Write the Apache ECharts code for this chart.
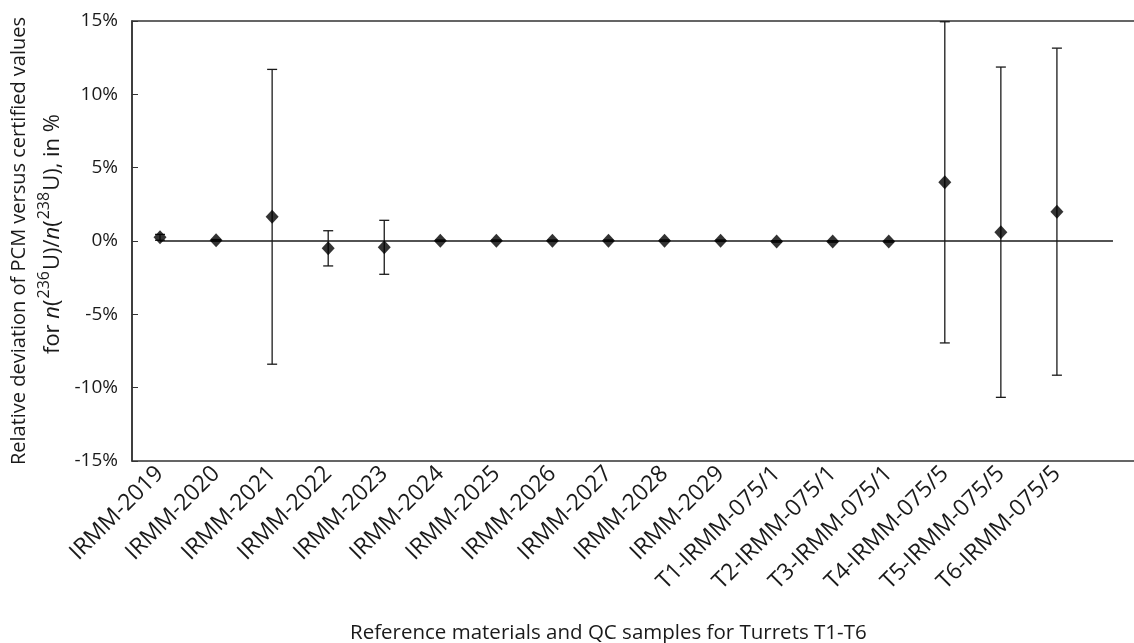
<!DOCTYPE html>
<html>
<head>
<meta charset="utf-8">
<script src="https://cdn.jsdelivr.net/npm/echarts@6/dist/echarts.min.js"></script>
<style>
  html, body { margin: 0; padding: 0; background: #fff; }
  #chart { width: 1134px; height: 643px; }
</style>
</head>
<body>
<div id="chart"></div>
<script>
// Sample names; the trailing blank slot leaves room for the end of the 0 % reference line
const categories = [
  'IRMM-2019', 'IRMM-2020', 'IRMM-2021', 'IRMM-2022', 'IRMM-2023', 'IRMM-2024',
  'IRMM-2025', 'IRMM-2026', 'IRMM-2027', 'IRMM-2028', 'IRMM-2029',
  'T1-IRMM-075/1', 'T2-IRMM-075/1', 'T3-IRMM-075/1',
  'T4-IRMM-075/5', 'T5-IRMM-075/5', 'T6-IRMM-075/5', ''
];

// Relative deviation of PCM versus certified value, in %
const deviation = [0.25, 0.05, 1.65, -0.50, -0.43, 0.02, 0.02, 0.02, 0.02, 0.02, 0.02,
  -0.03, -0.03, -0.03, 4.00, 0.60, 2.00];

// Expanded uncertainty (half-width of the error bar), in %
const uncertainty = [0.20, 0.05, 10.05, 1.20, 1.84, 0.05, 0.05, 0.05, 0.05, 0.05, 0.05,
  0.05, 0.05, 0.05, 10.95, 11.26, 11.15];

// Y axis ticks, in %
const yTicks = { min: -15, max: 15, step: 5 };

const FONT = 'Open Sans';
const INK = '#1a1a1a';

const points = deviation.map((v, i) => [i, v]);
const bars = deviation.map((v, i) => [i, v - uncertainty[i], v + uncertainty[i]]);

const chart = echarts.init(document.getElementById('chart'), null, { renderer: 'canvas' });

chart.setOption({
  animation: false,
  backgroundColor: '#fff',
  grid: {
    left: 132, top: 21, width: 1009, height: 440,
    outerBoundsMode: 'none',
    containLabel: false,
    show: true, borderColor: '#333', borderWidth: 1.5, backgroundColor: 'transparent'
  },
  xAxis: {
    type: 'category',
    data: categories,
    boundaryGap: true,
    axisLine: { show: false },
    axisTick: { show: false },
    splitLine: { show: false },
    axisLabel: {
      interval: 0, rotate: 45, margin: 9,
      fontFamily: FONT, fontSize: 23, color: INK
    }
  },
  yAxis: {
    type: 'value',
    min: yTicks.min, max: yTicks.max, interval: yTicks.step,
    axisLine: { show: true, lineStyle: { color: '#333', width: 1.5 } },
    axisTick: { show: true, inside: true, length: 6, lineStyle: { color: '#333', width: 1 } },
    splitLine: { show: false },
    axisLabel: {
      formatter: '{value}%', margin: 14,
      fontFamily: FONT, fontSize: 19, color: INK
    },
    name: '{a|Relative deviation of PCM versus certified values}\n' +
          '{f|for }{i|n}{b|(}{s|236}{b|U)/}{i|n}{b|(}{s|238}{b|U), in %}',
    nameLocation: 'middle',
    nameRotate: 90,
    nameGap: 61,
    nameTextStyle: {
      rich: {
        a: { fontFamily: FONT, fontSize: 20, color: INK, lineHeight: 33 },
        f: { fontFamily: FONT, fontSize: 22, color: INK, lineHeight: 33, padding: [0, 0, 0, 14] },
        b: { fontFamily: FONT, fontSize: 22, color: INK, lineHeight: 33 },
        i: { fontFamily: FONT, fontSize: 22, color: INK, lineHeight: 33, fontStyle: 'italic' },
        s: { fontFamily: FONT, fontSize: 16, color: INK, lineHeight: 20, verticalAlign: 'top', padding: [0, 1, 0, 1] }
      }
    }
  },
  graphic: [{
    type: 'text',
    left: 350, top: 623,
    style: {
      text: 'Reference materials and QC samples for Turrets T1-T6',
      fontFamily: FONT, fontSize: 20.5, fill: INK
    }
  }],
  series: [
    {
      // 0 % reference line plus error bars
      type: 'custom',
      data: bars,
      encode: { x: 0, y: [1, 2] },
      z: 2,
      silent: true,
      renderItem: function (params, api) {
        const x = api.value(0);
        const lo = api.coord([x, api.value(1)]);
        const hi = api.coord([x, api.value(2)]);
        const cap = 5;
        const style = { stroke: INK, lineWidth: 1.3 };
        return {
          type: 'group',
          children: [
            { type: 'line', shape: { x1: hi[0], y1: hi[1], x2: lo[0], y2: lo[1] }, style },
            { type: 'line', shape: { x1: hi[0] - cap, y1: hi[1], x2: hi[0] + cap, y2: hi[1] }, style },
            { type: 'line', shape: { x1: lo[0] - cap, y1: lo[1], x2: lo[0] + cap, y2: lo[1] }, style }
          ]
        };
      },
      markLine: {
        silent: true,
        symbol: 'none',
        label: { show: false },
        lineStyle: { color: INK, width: 1.5, type: 'solid' },
        data: [[{ coord: [0, 0] }, { coord: [categories.length - 1, 0] }]]
      }
    },
    {
      type: 'scatter',
      data: points,
      symbol: 'diamond',
      symbolSize: [13, 14],
      itemStyle: { color: '#000' },
      z: 5
    }
  ]
});
</script>
</body>
</html>
